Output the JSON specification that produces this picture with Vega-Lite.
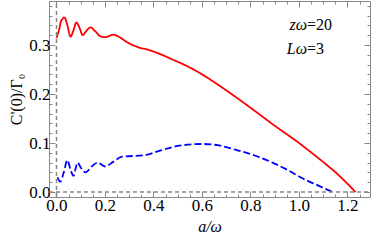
{
  "$schema": "https://vega.github.io/schema/vega-lite/v6.json",
  "autosize": "none",
  "width": 321,
  "height": 196,
  "padding": {"left": 49, "top": 1, "right": 1, "bottom": 52},
  "background": "white",
  "config": {
    "view": {"stroke": "#888888", "strokeWidth": 1},
    "axis": {"domain": false, "grid": false, "tickColor": "#888888"}
  },
  "datasets": {
    "curves": [
      {"s": "red", "x": 0.0, "y": 0.314},
      {"s": "red", "x": 0.01, "y": 0.33},
      {"s": "red", "x": 0.02, "y": 0.35},
      {"s": "red", "x": 0.033, "y": 0.356},
      {"s": "red", "x": 0.045, "y": 0.34},
      {"s": "red", "x": 0.058, "y": 0.317},
      {"s": "red", "x": 0.07, "y": 0.33},
      {"s": "red", "x": 0.082, "y": 0.346},
      {"s": "red", "x": 0.095, "y": 0.335},
      {"s": "red", "x": 0.108, "y": 0.32},
      {"s": "red", "x": 0.122, "y": 0.328},
      {"s": "red", "x": 0.14, "y": 0.336},
      {"s": "red", "x": 0.16, "y": 0.328},
      {"s": "red", "x": 0.18, "y": 0.318},
      {"s": "red", "x": 0.2, "y": 0.316},
      {"s": "red", "x": 0.235, "y": 0.321},
      {"s": "red", "x": 0.26, "y": 0.316},
      {"s": "red", "x": 0.29, "y": 0.306},
      {"s": "red", "x": 0.334, "y": 0.296},
      {"s": "red", "x": 0.38, "y": 0.29},
      {"s": "red", "x": 0.43, "y": 0.281},
      {"s": "red", "x": 0.48, "y": 0.27},
      {"s": "red", "x": 0.53, "y": 0.259},
      {"s": "red", "x": 0.6, "y": 0.24},
      {"s": "red", "x": 0.71, "y": 0.204},
      {"s": "red", "x": 0.8, "y": 0.172},
      {"s": "red", "x": 0.895, "y": 0.137},
      {"s": "red", "x": 1.0, "y": 0.1},
      {"s": "red", "x": 1.08, "y": 0.069},
      {"s": "red", "x": 1.16, "y": 0.036},
      {"s": "red", "x": 1.233, "y": 0.0},
      {"s": "blue", "x": 0.004, "y": 0.03},
      {"s": "blue", "x": 0.016, "y": 0.021},
      {"s": "blue", "x": 0.03, "y": 0.04},
      {"s": "blue", "x": 0.045, "y": 0.065},
      {"s": "blue", "x": 0.058, "y": 0.045},
      {"s": "blue", "x": 0.07, "y": 0.033},
      {"s": "blue", "x": 0.08, "y": 0.05},
      {"s": "blue", "x": 0.087, "y": 0.06},
      {"s": "blue", "x": 0.1, "y": 0.05},
      {"s": "blue", "x": 0.12, "y": 0.04},
      {"s": "blue", "x": 0.145, "y": 0.052},
      {"s": "blue", "x": 0.17, "y": 0.06},
      {"s": "blue", "x": 0.2, "y": 0.052},
      {"s": "blue", "x": 0.235, "y": 0.062},
      {"s": "blue", "x": 0.27, "y": 0.072},
      {"s": "blue", "x": 0.36, "y": 0.075},
      {"s": "blue", "x": 0.43, "y": 0.085},
      {"s": "blue", "x": 0.5, "y": 0.094},
      {"s": "blue", "x": 0.6, "y": 0.098},
      {"s": "blue", "x": 0.67, "y": 0.095},
      {"s": "blue", "x": 0.74, "y": 0.086},
      {"s": "blue", "x": 0.82, "y": 0.074},
      {"s": "blue", "x": 0.895, "y": 0.059},
      {"s": "blue", "x": 0.96, "y": 0.043},
      {"s": "blue", "x": 1.01, "y": 0.029},
      {"s": "blue", "x": 1.08, "y": 0.013},
      {"s": "blue", "x": 1.138, "y": 0.0}
    ],
    "labels": [
      {"a": "zω", "b": "=20", "x": 1.033, "y": 0.341},
      {"a": "Lω", "b": "=3", "x": 1.033, "y": 0.292}
    ]
  },
  "resolve": {"axis": {"x": "independent", "y": "independent"}},
  "layer": [
    {
      "data": {"name": "curves"},
      "mark": {"type": "line", "strokeWidth": 1.8, "interpolate": "monotone", "clip": true},
      "encoding": {
        "x": {
          "field": "x", "type": "quantitative",
          "scale": {"domain": [-0.0309, 1.2928], "nice": false, "zero": false},
          "axis": {"orient": "bottom", "values": [0, 0.2, 0.4, 0.6, 0.8, 1.0, 1.2], "format": ".1f", "tickSize": -6, "labelPadding": 6,
            "labelFont": "Liberation Serif", "labelFontSize": 17, "labelColor": "black",
            "title": "a/ω", "titleFont": "Liberation Serif", "titleFontSize": 16, "titleFontWeight": "normal", "titleFontStyle": "italic", "titleColor": "black", "titlePadding": 5}
        },
        "y": {
          "field": "y", "type": "quantitative",
          "scale": {"domain": [-0.0102, 0.3898], "nice": false, "zero": false},
          "axis": {"orient": "left", "values": [0, 0.1, 0.2, 0.3], "format": ".1f", "tickSize": -6, "labelPadding": 5,
            "labelFont": "Liberation Serif", "labelFontSize": 17, "labelColor": "black",
            "title": "C'(0)/Γ₀", "titleFont": "Liberation Serif", "titleFontSize": 16, "titleFontWeight": "normal", "titleColor": "black", "titlePadding": 4}
        },
        "color": {"field": "s", "type": "nominal", "scale": {"domain": ["red", "blue"], "range": ["#ff0000", "#0000ff"]}, "legend": null},
        "strokeDash": {"field": "s", "type": "nominal", "scale": {"domain": ["red", "blue"], "range": [[1, 0], [7, 3]]}, "legend": null}
      }
    },
    {
      "data": {"values": [{}]},
      "mark": {"type": "rule", "color": "#888888", "strokeWidth": 1.5, "strokeDash": [4, 3]},
      "encoding": {
        "x": {
          "datum": 0, "type": "quantitative",
          "scale": {"domain": [-0.0309, 1.2928], "nice": false, "zero": false},
          "axis": {"orient": "bottom", "values": [0.05, 0.1, 0.15, 0.25, 0.3, 0.35, 0.45, 0.5, 0.55, 0.65, 0.7, 0.75, 0.85, 0.9, 0.95, 1.05, 1.1, 1.15, 1.25], "labels": false, "tickSize": -3, "title": null}
        },
        "y": {
          "datum": -0.0102, "type": "quantitative",
          "scale": {"domain": [-0.0102, 0.3898], "nice": false, "zero": false},
          "axis": {"orient": "left", "values": [0.02, 0.04, 0.06, 0.08, 0.12, 0.14, 0.16, 0.18, 0.22, 0.24, 0.26, 0.28, 0.32, 0.34, 0.36, 0.38], "labels": false, "tickSize": -3, "title": null}
        },
        "y2": {"datum": 0.3898}
      }
    },
    {
      "data": {"values": [{}]},
      "mark": {"type": "rule", "color": "#888888", "strokeWidth": 1.5, "strokeDash": [4, 3]},
      "encoding": {
        "x": {
          "datum": -0.0309, "type": "quantitative",
          "scale": {"domain": [-0.0309, 1.2928], "nice": false, "zero": false},
          "axis": {"orient": "top", "values": [0, 0.2, 0.4, 0.6, 0.8, 1.0, 1.2], "labels": false, "tickSize": -6, "title": null}
        },
        "x2": {"datum": 1.2928},
        "y": {
          "datum": 0, "type": "quantitative",
          "scale": {"domain": [-0.0102, 0.3898], "nice": false, "zero": false},
          "axis": {"orient": "right", "values": [0, 0.1, 0.2, 0.3], "labels": false, "tickSize": -6, "title": null}
        }
      }
    },
    {
      "data": {"name": "labels"},
      "mark": {"type": "text", "align": "right", "baseline": "middle", "font": "Liberation Serif", "fontSize": 16, "fontStyle": "italic", "color": "black"},
      "encoding": {
        "x": {
          "field": "x", "type": "quantitative",
          "scale": {"domain": [-0.0309, 1.2928], "nice": false, "zero": false},
          "axis": {"orient": "top", "values": [0.05, 0.1, 0.15, 0.25, 0.3, 0.35, 0.45, 0.5, 0.55, 0.65, 0.7, 0.75, 0.85, 0.9, 0.95, 1.05, 1.1, 1.15, 1.25], "labels": false, "tickSize": -3, "title": null}
        },
        "y": {
          "field": "y", "type": "quantitative",
          "scale": {"domain": [-0.0102, 0.3898], "nice": false, "zero": false},
          "axis": {"orient": "right", "values": [0.02, 0.04, 0.06, 0.08, 0.12, 0.14, 0.16, 0.18, 0.22, 0.24, 0.26, 0.28, 0.32, 0.34, 0.36, 0.38], "labels": false, "tickSize": -3, "title": null}
        },
        "text": {"field": "a"}
      }
    },
    {
      "data": {"name": "labels"},
      "mark": {"type": "text", "align": "left", "baseline": "middle", "font": "Liberation Serif", "fontSize": 16, "color": "black"},
      "encoding": {
        "x": {"field": "x", "type": "quantitative", "scale": {"domain": [-0.0309, 1.2928], "nice": false, "zero": false}, "axis": null},
        "y": {"field": "y", "type": "quantitative", "scale": {"domain": [-0.0102, 0.3898], "nice": false, "zero": false}, "axis": null},
        "text": {"field": "b"}
      }
    }
  ]
}
